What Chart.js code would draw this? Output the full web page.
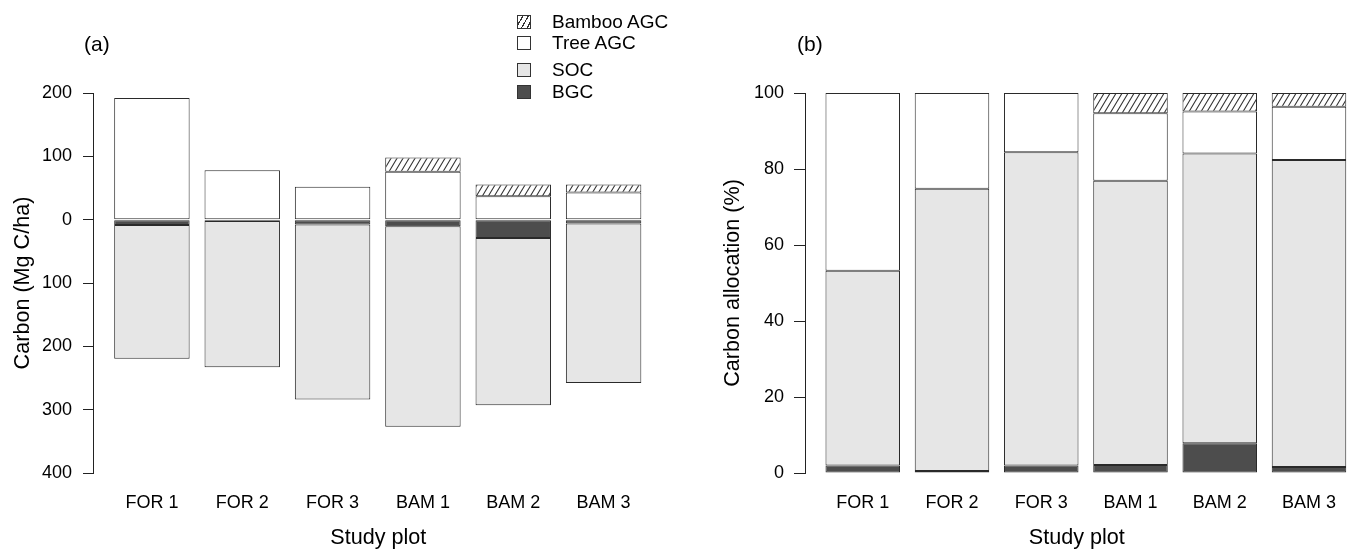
<!DOCTYPE html>
<html>
<head>
<meta charset="utf-8">
<script src="https://cdn.jsdelivr.net/npm/chart.js@4.4.1/dist/chart.umd.min.js"></script>
<style>
  body { margin: 0; background: #fff; font-family: 'Liberation Sans', Arial, sans-serif; color: #000; }
  #wrap { position: relative; width: 1355px; height: 550px; overflow: hidden; background: #fff; }
  canvas { position: absolute; top: 0; }
  .panel { position: absolute; top: 32px; font-size: 21px; line-height: 24px; }
  .row { position: absolute; left: 517px; height: 20px; line-height: 20px; font-size: 19px; white-space: nowrap; }
  .sw { position: absolute; left: 0; top: 3px; width: 14px; height: 14px; border: 1px solid #333; box-sizing: border-box; }
  .lbl { position: absolute; left: 35px; top: 0; }
</style>
</head>
<body>
<div id="wrap">
  <canvas id="chartA" width="680" height="550" style="left:0"></canvas>
  <canvas id="chartB" width="675" height="550" style="left:680px"></canvas>
  <div class="panel" style="left:84px">(a)</div>
  <div class="panel" style="left:797px">(b)</div>
  <div class="row" style="top:12px"><span class="sw" style="background:repeating-linear-gradient(120deg,#fff 0 3.6px,#333 3.6px 4.8px)"></span><span class="lbl">Bamboo AGC</span></div>
  <div class="row" style="top:33px"><span class="sw" style="background:#fff"></span><span class="lbl">Tree AGC</span></div>
  <div class="row" style="top:60px"><span class="sw" style="background:#e6e6e6"></span><span class="lbl">SOC</span></div>
  <div class="row" style="top:82px"><span class="sw" style="background:#4d4d4d"></span><span class="lbl">BGC</span></div>
</div>
<script>
const plots = ['FOR 1', 'FOR 2', 'FOR 3', 'BAM 1', 'BAM 2', 'BAM 3'];

// (a) carbon stocks, Mg C/ha (below-ground pools drawn downwards)
const bambooAGC = [0, 0, 0, 22.5, 18.5, 12.5];
const treeAGC = [192, 78, 52, 75.5, 37, 43];
const bgc = [-8.5, -2, -7.5, -10.5, -29, -6];
const soc = [-211, -231, -276.5, -316.5, -264, -252];
const carbonTicks = [200, 100, 0, -100, -200, -300, -400];

// (b) carbon allocation, %
const bgcPct = [2.0, 0.5, 2.0, 2.1, 7.8, 1.6];
const socPct = [51.2, 74.3, 82.4, 74.8, 76.3, 80.8];
const treePct = [46.8, 25.2, 15.6, 17.8, 11.0, 14.0];
const bambooPct = [0, 0, 0, 5.3, 4.9, 3.6];
const pctTicks = [0, 20, 40, 60, 80, 100];

const FONT = "'Liberation Sans', Arial, sans-serif";
Chart.defaults.color = '#000';
Chart.defaults.font.family = FONT;

// steep "/" hatching like R's density shading
function hatch() {
  const w = 6, h = 10;
  const c = document.createElement('canvas');
  c.width = w; c.height = h;
  const g = c.getContext('2d');
  g.fillStyle = '#fff';
  g.fillRect(0, 0, w, h);
  g.strokeStyle = '#333';
  g.lineWidth = 1.1;
  const k = h / w;
  g.beginPath();
  g.moveTo(-1, h + k); g.lineTo(w + 1, -k);
  g.moveTo(-1, k); g.lineTo(1, -k);
  g.moveTo(w - 1, h + k); g.lineTo(w + 1, h - k);
  g.stroke();
  return g.createPattern(c, 'repeat');
}

function ds(label, vals, color) {
  return {
    label,
    data: vals.map((v, i) => ({ x: i, y: v })),
    backgroundColor: color,
    borderColor: '#2a2a2a',
    borderWidth: 1,
    borderSkipped: false,
    categoryPercentage: 1,
    barPercentage: 0.835,
  };
}

function makeChart(id, datasets, cfg) {
  return new Chart(document.getElementById(id), {
    type: 'bar',
    data: { datasets },
    options: {
      responsive: false,
      animation: false,
      layout: { padding: { top: 93, right: cfg.padRight, bottom: 0, left: 0 } },
      plugins: { legend: { display: false }, tooltip: { enabled: false } },
      scales: {
        x: {
          type: 'linear',
          stacked: true,
          offset: false,
          min: cfg.xMin,
          max: cfg.xMax,
          grid: { display: false, drawTicks: false, offset: false },
          border: { display: false },
          afterBuildTicks: (s) => { s.ticks = plots.map((p, i) => ({ value: i })); },
          ticks: {
            callback: (v) => plots[v],
            font: { size: 18 },
            padding: 19,
            maxRotation: 0,
            autoSkip: false,
          },
          title: {
            display: true,
            text: 'Study plot',
            font: { size: 21.6, lineHeight: 1 },
            padding: { top: 0, bottom: 1 },
          },
          afterFit: (s) => { s.height = 77; },
        },
        y: {
          stacked: true,
          min: cfg.yMin,
          max: cfg.yMax,
          afterBuildTicks: (s) => { s.ticks = cfg.ticks.map((v) => ({ value: v })); },
          ticks: {
            callback: (v) => String(Math.abs(v)),
            font: { size: 18 },
            padding: cfg.tickPad,
          },
          grid: { drawOnChartArea: false, tickLength: cfg.tickLen, color: '#222' },
          border: { color: '#222' },
          title: {
            display: true,
            text: cfg.yTitle,
            font: { size: 21.6, lineHeight: 1 },
            padding: { top: cfg.titlePad, bottom: 0 },
          },
          afterFit: (s) => { s.width = cfg.axisWidth; },
        },
      },
    },
  });
}

makeChart('chartA', [
  ds('BGC', bgc, '#4d4d4d'),
  ds('SOC', soc, '#e6e6e6'),
  ds('Tree AGC', treeAGC, '#ffffff'),
  ds('Bamboo AGC', bambooAGC, hatch()),
], {
  padRight: 16.5, xMin: -0.652, xMax: 5.663,
  yMin: -400, yMax: 200, ticks: carbonTicks,
  tickPad: 11, tickLen: 10, titlePad: 12, axisWidth: 93,
  yTitle: 'Carbon (Mg C/ha)',
});

makeChart('chartB', [
  ds('BGC', bgcPct, '#4d4d4d'),
  ds('SOC', socPct, '#e6e6e6'),
  ds('Tree AGC', treePct, '#ffffff'),
  ds('Bamboo AGC', bambooPct, hatch()),
], {
  padRight: 0, xMin: -0.647, xMax: 5.444,
  yMin: 0, yMax: 100, ticks: pctTicks,
  tickPad: 10, tickLen: 11, titlePad: 42, axisWidth: 125,
  yTitle: 'Carbon allocation (%)',
});
</script>
</body>
</html>
